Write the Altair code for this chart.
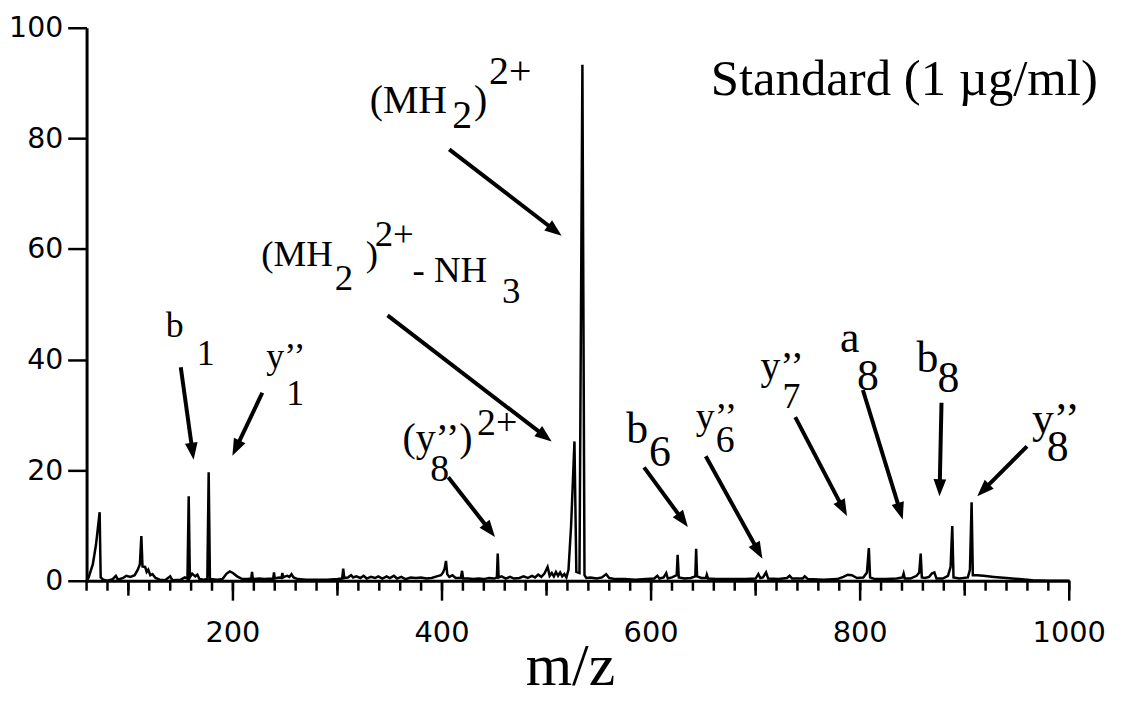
import math
import altair as alt
import pandas as pd

# ---- spectrum trace (m/z, relative intensity %) ----
mz = [60, 62, 66, 69, 72.5, 73.5, 76, 80, 85, 88, 90, 95, 98, 102, 106, 109, 111, 112.4, 113.5, 116,
      117.5, 119, 121, 123, 126, 130, 135, 140, 142, 150, 154, 156.5, 157.7, 158.8, 161, 164, 166, 168,
      172, 175.5, 176.8, 178, 185, 190, 194, 197, 200, 204, 209, 214, 217.5, 218.3, 219, 225, 230,
      238.5, 239.3, 240, 244, 246.5, 247.3, 248, 250, 252, 254, 256, 258, 262, 270, 280, 290, 300,
      304.5, 305.5, 306.5, 310, 313, 315, 318, 322, 325, 328, 332, 336, 339, 343, 347, 350, 354, 357,
      361, 365, 370, 375, 380, 385, 390, 395, 399, 401, 402.5, 403.8, 405, 407, 410, 413, 418, 419.2,
      420.2, 425, 430, 435, 440, 445, 450, 452.5, 453.3, 454.2, 457, 461, 465, 469, 474, 478, 482, 486,
      489, 492, 495, 498, 501, 503, 505, 507, 509, 511, 513, 515, 517, 519, 521, 523.5, 526.7, 528.5,
      531.5, 534.3, 536.3, 538, 542, 548, 553, 557, 560, 566, 575, 585, 595, 603, 606, 608, 612, 614.5,
      616, 620, 624.5, 625.4, 626.5, 632, 638, 642.3, 643.1, 644, 648, 652.5, 653.3, 654.5, 662, 675,
      690, 700, 702.6, 704.5, 707, 710, 712, 722, 730, 732.5, 735, 740, 745, 747, 750, 765, 778, 784,
      788, 792, 797, 803, 806.5, 808.3, 809.5, 814, 825, 835, 840.5, 841.6, 842.7, 848, 854, 856.5,
      857.9, 859, 862, 866, 868.5, 871, 873, 879, 884, 886.5, 888.1, 889.3, 895, 903, 905, 906.6,
      907.8, 912, 918, 928, 940, 952, 965, 980, 1000]
intensity = [0, 0.6, 3.0, 6.5, 12.4, 0.6, 0.2, 0, 0.3, 0.9, 0.2, 0.5, 0.9, 0.7, 1.0, 2.0, 3.0, 8.1, 2.6, 2.5,
             1.6, 2.0, 1.0, 1.2, 0.5, 0.2, 0.1, 0.8, 0.1, 0.2, 0.6, 0.4, 15.3, 0.6, 1.3, 0.8, 1.1, 0.3,
             0.2, 0.3, 19.6, 0.3, 0.2, 0.3, 1.3, 1.7, 1.4, 0.8, 0.3, 0.3, 0.4, 1.6, 0.3, 0.4, 0.3,
             0.4, 1.5, 0.4, 0.6, 0.5, 1.4, 0.6, 0.8, 0.9, 0.7, 1.2, 0.6, 0.3, 0.2, 0.2, 0.2, 0.3,
             0.4, 2.2, 0.5, 0.6, 1.0, 0.6, 0.8, 0.5, 0.9, 0.4, 0.7, 0.5, 0.8, 0.4, 0.8, 0.5, 0.9, 0.4,
             0.7, 0.3, 0.6, 0.5, 0.6, 0.4, 0.5, 0.8, 1.0, 1.5, 2.2, 3.6, 1.2, 0.7, 1.0, 0.5, 0.5, 1.8,
             0.4, 0.4, 0.3, 0.4, 0.3, 0.5, 0.4, 0.6, 4.9, 0.6, 0.8, 0.4, 0.7, 0.4, 0.5, 0.8, 0.5, 0.9,
             0.6, 1.1, 0.7, 1.3, 2.5, 0.9, 1.4, 0.8, 1.6, 0.9, 1.5, 0.8, 1.2, 0.6, 2.0, 10.0, 25.2, 1.6,
             1.4, 93.3, 1.0, 0.5, 0.6, 0.4, 0.6, 1.2, 0.5, 0.3, 0.3, 0.2, 0.3, 0.4, 0.9, 0.4, 0.6, 1.4,
             0.4, 0.6, 1.0, 4.7, 0.6, 0.4, 0.5, 0.8, 5.8, 0.8, 0.5, 0.5, 1.1, 0.4, 0.3, 0.3,
             0.3, 0.4, 1.2, 0.5, 0.6, 1.5, 0.4, 0.3, 0.5, 0.9, 0.4, 0.4, 0.4, 0.8, 0.3, 0.2, 0.3, 0.7,
             1.1, 1.0, 0.5, 0.6, 1.5, 5.9, 0.6, 0.3, 0.3, 0.4, 0.6, 1.3, 0.4, 0.4, 0.9, 1.5,
             4.9, 0.6, 0.5, 0.7, 1.3, 1.5, 0.4, 0.4, 0.9, 2.5, 9.9, 0.6, 0.4, 0.6, 2.0, 14.2,
             1.0, 1.0, 0.9, 0.7, 0.5, 0.3, 0.1, 0, 0]

# ---- axis tick values and labels ----
minor_ticks = list(range(60, 1001, 20))
medium_ticks = [100, 300, 500, 700, 900]
major_ticks = [200, 400, 600, 800, 1000]
major_labels = ["200", "400", "600", "800", "1000"]
y_ticks = [0, 20, 40, 60, 80, 100]

# ---- annotation text pieces (text, m/z anchor, intensity anchor, font size) ----
label_text = ["(MH", "2", ")", "2+",
              "(MH", "2", ")", "2+", "- NH", "3",
              "(y’’)", "8", "2+",
              "b", "1", "y’’", "1",
              "b", "6", "y’’", "6", "y’’", "7",
              "a", "8", "b", "8", "y’’", "8",
              "Standard (1 µg/ml)"]
label_mz = [330.8, 409.8, 430.7, 445.0,
            227.1, 297.5, 327.0, 335.6, 371.7, 457.3,
            362.2, 388.8, 433.5,
            135.8, 165.3, 231.9, 250.9,
            576.2, 598.1, 642.8, 661.8, 704.6, 725.6,
            780.7, 796.9, 854.0, 873.9, 964.3, 978.6,
            657.1]
label_int = [84.6, 81.8, 84.6, 89.8,
             57.0, 52.5, 57.0, 60.6, 54.1, 50.3,
             23.4, 18.0, 26.4,
             44.0, 39.0, 38.5, 31.8,
             25.0, 20.7, 27.5, 23.2, 36.5, 31.3,
             41.3, 34.5, 37.7, 34.1, 26.8, 21.6,
             87.9]
label_size = [40, 40, 40, 40,
              37, 37, 37, 37, 37, 37,
              40, 38, 38,
              36, 36, 36, 36,
              44, 44, 38, 38, 40, 36,
              44, 44, 44, 44, 44, 44,
              51]

# ---- arrows (start m/z, start intensity, tip m/z, tip intensity) ----
arrow_mz_start = [406.9, 347.9, 406.0, 150.1, 228.1, 593.3, 652.3, 737.9, 802.6, 877.8, 959.6]
arrow_int_start = [78.0, 48.0, 18.7, 38.6, 34.0, 20.5, 22.5, 29.6, 34.5, 32.2, 24.3]
arrow_mz_end = [514.4, 504.9, 450.7, 162.4, 199.5, 635.2, 706.5, 787.4, 840.7, 875.9, 912.0]
arrow_int_end = [62.4, 25.2, 7.9, 21.9, 22.6, 9.7, 4.0, 11.7, 11.1, 15.3, 15.3]

X_DOMAIN = [60, 1000]
Y_DOMAIN = [0, 100]
W, H = 988, 556
KX = W / (X_DOMAIN[1] - X_DOMAIN[0])
KY = H / (Y_DOMAIN[1] - Y_DOMAIN[0])

spec_df = pd.DataFrame({"mz": mz, "intensity": intensity})
lab_df = pd.DataFrame({"t": label_text, "mz": label_mz, "inten": label_int, "fs": label_size})
min_df = pd.DataFrame({"v": minor_ticks})
med_df = pd.DataFrame({"v": medium_ticks})
maj_df = pd.DataFrame({"v": major_ticks, "lab": major_labels})

rows = []
for x1, y1, x2, y2 in zip(arrow_mz_start, arrow_int_start, arrow_mz_end, arrow_int_end):
    dx = (x2 - x1) * KX
    dy = -(y2 - y1) * KY
    L = math.hypot(dx, dy)
    f = 9.0 / L
    ang = math.degrees(math.atan2(dy, dx)) % 360
    rows.append({"x1": x1, "y1": y1, "x2": x2 - (x2 - x1) * f, "y2": y2 - (y2 - y1) * f,
                 "tx": x2, "ty": y2, "angle": ang})
arr_df = pd.DataFrame(rows)

xscale = alt.Scale(domain=X_DOMAIN, nice=False, zero=False)
yscale = alt.Scale(domain=Y_DOMAIN, nice=False, zero=False)

x_axis = alt.Axis(
    labels=False, ticks=False,
    domainWidth=3, domainColor="black",
    grid=False,
    title="m/z", titleFont="Liberation Serif", titleFontSize=60,
    titleFontWeight="normal", titleColor="black",
    titleBaseline="alphabetic", titleY=104, titleX=486, titleAlign="center",
)
y_axis = alt.Axis(
    values=y_ticks,
    tickSize=19, tickWidth=2.5, tickColor="black",
    domainWidth=3, domainColor="black",
    labelFont="DejaVu Sans", labelFontSize=28.5, labelColor="black",
    labelPadding=5, grid=False, title=None,
)


def X(field):
    return alt.X(field, type="quantitative", scale=xscale, axis=x_axis)


def Y(field):
    return alt.Y(field, type="quantitative", scale=yscale, axis=y_axis)


spectrum = alt.Chart(spec_df).mark_line(color="black", strokeWidth=2.5).encode(
    x=X("mz"), y=Y("intensity"),
)

min_ticks_l = alt.Chart(min_df).mark_rule(color="black", strokeWidth=2.5).encode(
    x=X("v"), y=alt.value(H), y2=alt.value(H + 10),
)
med_ticks_l = alt.Chart(med_df).mark_rule(color="black", strokeWidth=2.5).encode(
    x=X("v"), y=alt.value(H), y2=alt.value(H + 15),
)
maj_ticks_l = alt.Chart(maj_df).mark_rule(color="black", strokeWidth=2.5).encode(
    x=X("v"), y=alt.value(H), y2=alt.value(H + 20),
)
tick_labels = alt.Chart(maj_df).mark_text(
    baseline="top", align="center", font="DejaVu Sans", fontSize=29, color="black"
).encode(
    x=X("v"), y=alt.value(H + 39), text="lab:N",
)

labels = alt.Chart(lab_df).mark_text(
    align="left", baseline="alphabetic", font="Liberation Serif", color="black"
).encode(
    x=X("mz"), y=Y("inten"),
    text="t:N",
    size=alt.Size("fs:Q", scale=None),
)

shafts = alt.Chart(arr_df).mark_rule(color="black", strokeWidth=4, strokeCap="butt").encode(
    x=X("x1"), y=Y("y1"), x2="x2:Q", y2="y2:Q",
)

heads = alt.Chart(arr_df).mark_point(
    shape="M0,0 L-2,-0.75 L-2,0.75 Z", filled=True, color="black", opacity=1, size=289, strokeWidth=0
).encode(
    x=X("tx"), y=Y("ty"),
    angle=alt.Angle("angle:Q", scale=None),
)

chart = alt.layer(spectrum, min_ticks_l, med_ticks_l, maj_ticks_l, tick_labels,
                  shafts, heads, labels).properties(
    width=W, height=H,
    autosize=alt.AutoSizeParams(type="none"),
    padding={"left": 79, "top": 18, "right": 45, "bottom": 115},
    background="white",
).configure_view(stroke=None)

chart.save("out.html", embed_options={"renderer": "svg", "actions": False})
